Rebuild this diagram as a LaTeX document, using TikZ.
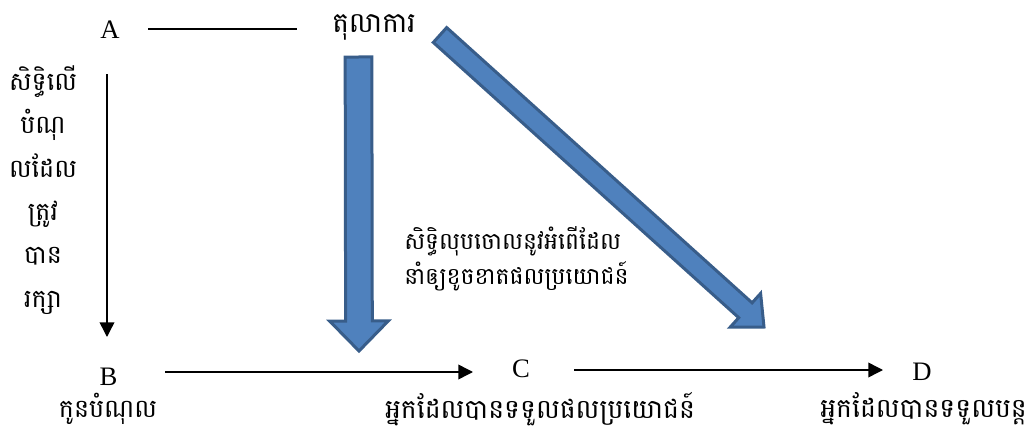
\documentclass[tikz,border=0pt]{standalone}
\usepackage{fontspec}
\setmainfont{Liberation Serif}
\newfontfamily\kh[Script=Khmer]{Battambang}
\usetikzlibrary{calc,arrows.meta}
\definecolor{blfill}{HTML}{4F81BD}
\definecolor{bldraw}{HTML}{385D8A}
\begin{document}
\begin{tikzpicture}[x=0.75pt,y=-0.75pt,
  lat/.style={font=\fontsize{20}{24}\selectfont, inner sep=0pt},
  khm/.style={font=\kh\fontsize{17.6}{20}\selectfont, inner sep=0pt},
  khlab/.style={font=\kh\fontsize{20}{24}\selectfont, inner sep=0pt},
  conn/.style={line width=1.1pt, -{Triangle[length=11pt,width=11pt]}},
  plain/.style={line width=1.1pt},
  blockarrow/.style={fill=blfill, draw=bldraw, line width=2.25pt, line join=miter}]
\useasboundingbox (0,0) rectangle (1026,432);

% text nodes
\node[lat] (A) at (110,30) {A};
\node[khm, font=\kh\fontsize{21}{24}\selectfont] (court) at (374,27) {តុលាការ};
\node[lat] (B) at (108.5,377) {B};
\node[lat] (C) at (521,369) {C};
\node[lat] (D) at (922,372) {D};
\node[khm, align=center, font=\kh\fontsize{19}{32.5}\selectfont] (rights) at (43,190)
  {សិទ្ធិលើ\\បំណុ\\លដែល\\ត្រូវ\\បាន\\រក្សា};
\node[khm, align=left, anchor=west, font=\kh\fontsize{17.6}{26}\selectfont] (mid) at (404,259)
  {សិទ្ធិលុបចោលនូវអំពើដែល\\នាំឲ្យខូចខាតផលប្រយោជន៍};
\node[khlab, font=\kh\fontsize{19}{24}\selectfont] (Bl) at (108,409) {កូនបំណុល};
\node[khlab] (Cl) at (540,409) {អ្នកដែលបានទទួលផលប្រយោជន៍};
\node[khlab, anchor=west] (Dl) at (820,409) {អ្នកដែលបានទទួលបន្ត};

% connector end points
\coordinate (ab1) at (148,29);
\coordinate (ab2) at (297,29);
\coordinate (v1) at (107,74);
\coordinate (v2) at (107,337);
\coordinate (bc1) at (165,372);
\coordinate (bc2) at (473,372);
\coordinate (cd1) at (574,370);
\coordinate (cd2) at (883,370);

\draw[plain] (ab1) -- (ab2);
\draw[conn] (v1) -- (v2);
\draw[conn] (bc1) -- (bc2);
\draw[conn] (cd1) -- (cd2);

% block arrows
\coordinate (vt) at (358.5,57);
\coordinate (vh) at (359,351);
\coordinate (vb) at ($(vh)!22.5pt!(vt)$);
\path[blockarrow]
  ($(vt)!10pt!90:(vh)$) -- ($(vb)!10pt!-90:(vt)$) -- ($(vb)!22pt!-90:(vt)$) -- (vh)
  -- ($(vb)!22pt!90:(vt)$) -- ($(vb)!10pt!90:(vt)$) -- ($(vt)!10pt!-90:(vh)$) -- cycle;

\coordinate (dt) at (440,35);
\coordinate (dh) at (764,327);
\coordinate (db) at ($(dh)!18.75pt!(dt)$);
\path[blockarrow]
  ($(dt)!7.5pt!90:(dh)$) -- ($(db)!7.5pt!-90:(dt)$) -- ($(db)!17pt!-90:(dt)$) -- (dh)
  -- ($(db)!17pt!90:(dt)$) -- ($(db)!7.5pt!90:(dt)$) -- ($(dt)!7.5pt!-90:(dh)$) -- cycle;
\end{tikzpicture}
\end{document}
